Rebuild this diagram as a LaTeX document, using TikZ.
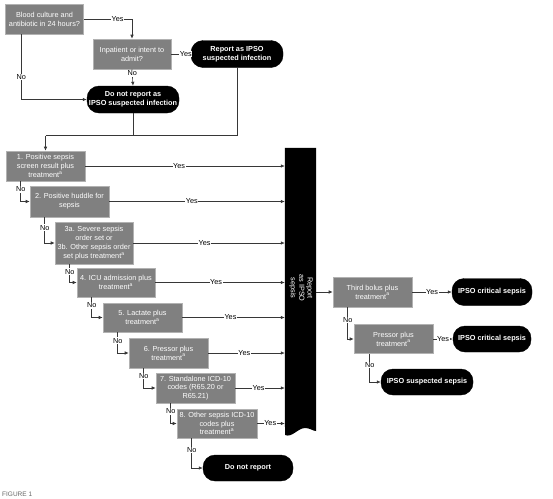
\documentclass[tikz,border=0pt]{standalone}
\usepackage{fontspec}
\setmainfont{Liberation Sans}
\usetikzlibrary{arrows.meta, positioning, calc}
\definecolor{BoxGray}{RGB}{128,128,128}
\definecolor{EdgeGray}{RGB}{178,178,178}
\definecolor{LineGray}{RGB}{55,55,55}
\tikzset{
  proc/.style={
    rectangle, draw=EdgeGray, fill=BoxGray, text=white,
    align=center, inner sep=1pt, line width=0.6pt,
    font=\fontsize{7.3}{8.8}\selectfont
  },
  term/.style={
    rectangle, rounded corners=12pt, draw=black, fill=black, text=white,
    align=center, inner sep=1pt, minimum height=26pt,
    font=\fontsize{7.3}{8.8}\selectfont\bfseries
  },
  arr/.style={-{Latex[length=4pt,width=3.5pt]}, draw=LineGray, line width=0.6pt},
  conn/.style={draw=LineGray, line width=0.6pt},
  lbl/.style={font=\fontsize{7.3}{8}\selectfont, text=black, fill=white, inner sep=0.6pt}
}
\newcommand{\trt}{treatment\textsuperscript{a}}

\begin{document}
\begin{tikzpicture}[x=1pt, y=-1pt]
  \clip (0,0) rectangle (553,498);

  % Top: infection screen
  \node[proc, minimum width=78pt, minimum height=30pt] (blood) at (44.5,19)
       {Blood culture and\\antibiotic in 24 hours?};
  \node[proc, minimum width=78pt, minimum height=30pt] (inpat) at (132,54)
       {Inpatient or intent to\\admit?};
  \node[term, minimum width=92pt, minimum height=27pt] (repinf) at (237,54)
       {Report as IPSO\\suspected infection};
  \node[term, minimum width=92pt, minimum height=27pt] (noinf) at (133,99.5)
       {Do not report as\\IPSO suspected infection};

  % Sepsis criteria cascade
  \node[proc, minimum width=79pt, minimum height=30pt] (s1) at (45.5,166)
       {1. Positive sepsis\\screen result plus\\\trt};
  \node[proc, minimum width=79pt, minimum height=31pt] (s2) at (69.5,201.5)
       {2. Positive huddle for\\sepsis};
  \node[proc, minimum width=78pt, minimum height=42pt] (s3) at (94,243)
       {3a. Severe sepsis\\order set or\\3b. Other sepsis order\\set plus \trt};
  \node[proc, minimum width=78pt, minimum height=29pt] (s4) at (116,282.5)
       {4. ICU admission plus\\\trt};
  \node[proc, minimum width=79pt, minimum height=29pt] (s5) at (142.5,317.5)
       {5. Lactate plus\\\trt};
  \node[proc, minimum width=79pt, minimum height=30pt] (s6) at (168.5,353)
       {6. Pressor plus\\\trt};
  \node[proc, minimum width=79pt, minimum height=30pt] (s7) at (195.5,388)
       {7. Standalone ICD-10\\codes (R65.20 or\\R65.21)};
  \node[proc, minimum width=80pt, minimum height=29pt] (s8) at (217,423.5)
       {8. Other sepsis ICD-10\\codes plus\\\trt};
  \node[term, minimum width=90pt, minimum height=26pt] (stop) at (248,468)
       {Do not report};

  % Report bar with wavy bottom
  \node[minimum width=31pt, minimum height=286pt, inner sep=0pt] (bar) at (300.5,291) {};
  \fill[black] (bar.north west) -- (bar.north east) -- (316,431)
       .. controls (313,431) and (310,428) .. (305,428)
       .. controls (298,428) and (292,438) .. (285,435) -- cycle;
  \node[rotate=-90, text=white, align=center, inner sep=0pt,
        font=\fontsize{7.3}{8.4}\selectfont] (bartxt) at (301,288)
       {Report\\as IPSO\\sepsis};

  % Severity branch
  \node[proc, minimum width=79pt, minimum height=30pt] (bolus) at (372.5,292)
       {Third bolus plus\\\trt};
  \node[term, minimum width=80pt, minimum height=27pt] (crit1) at (492,292)
       {IPSO critical sepsis};
  \node[proc, minimum width=79pt, minimum height=29pt] (press) at (393.5,339)
       {Pressor plus\\\trt};
  \node[term, minimum width=78pt, minimum height=26pt] (crit2) at (492,339)
       {IPSO critical sepsis};
  \node[term, minimum width=92pt, minimum height=26pt] (susp) at (427,382)
       {IPSO suspected sepsis};

  \node[anchor=south west, inner sep=0pt, text=black!60,
        font=\fontsize{6.5}{6.5}\selectfont] (fig) at (2,496.5) {FIGURE 1};

  % Arrows: top
  \draw[arr] (blood.east) -- node[lbl, pos=0.7] {Yes} (blood.east -| inpat.north) -- (inpat.north);
  \draw[arr] (inpat.east) -- node[lbl, pos=0.75] {Yes} (repinf.west);
  \draw[arr] (inpat.south) -- node[lbl, pos=0.25] {No} (noinf.north);
  \draw[arr] ($(blood.south west)+(16,0)$) |- node[lbl, pos=0.33] {No} (noinf.west);
  \coordinate (join) at ($(s1.north)+(0,-15)$);
  \draw[conn] (repinf.south) |- (join);
  \draw[conn] (noinf.south) -- (noinf.south |- join);
  \draw[arr] (join) -- (s1.north);

  % Arrows: cascade
  \foreach \a/\b in {s1/s2, s2/s3, s3/s4, s4/s5, s5/s6, s6/s7, s7/s8, s8/stop} {
    \draw[arr] ($(\a.south west)+(15,0)$) |- node[lbl, pos=0.2] {No} (\b.west);
  }
  \foreach \s in {s1, s2, s3, s4, s5, s6, s7, s8} {
    \draw[arr] (\s.east) -- node[lbl, pos=0.47] {Yes} (\s.east -| bar.west);
  }

  % Arrows: severity
  \draw[arr] (bar.east |- bolus.west) -- (bolus.west);
  \draw[arr] (bolus.east) -- node[lbl, pos=0.5] {Yes} (crit1.west);
  \draw[arr] (press.east) -- node[lbl, pos=0.5] {Yes} (crit2.west);
  \draw[arr] ($(bolus.south west)+(15,0)$) |- node[lbl, pos=0.2] {No} (press.west);
  \draw[arr] ($(press.south west)+(16,0)$) |- node[lbl, pos=0.2] {No} (susp.west);
\end{tikzpicture}
\end{document}
